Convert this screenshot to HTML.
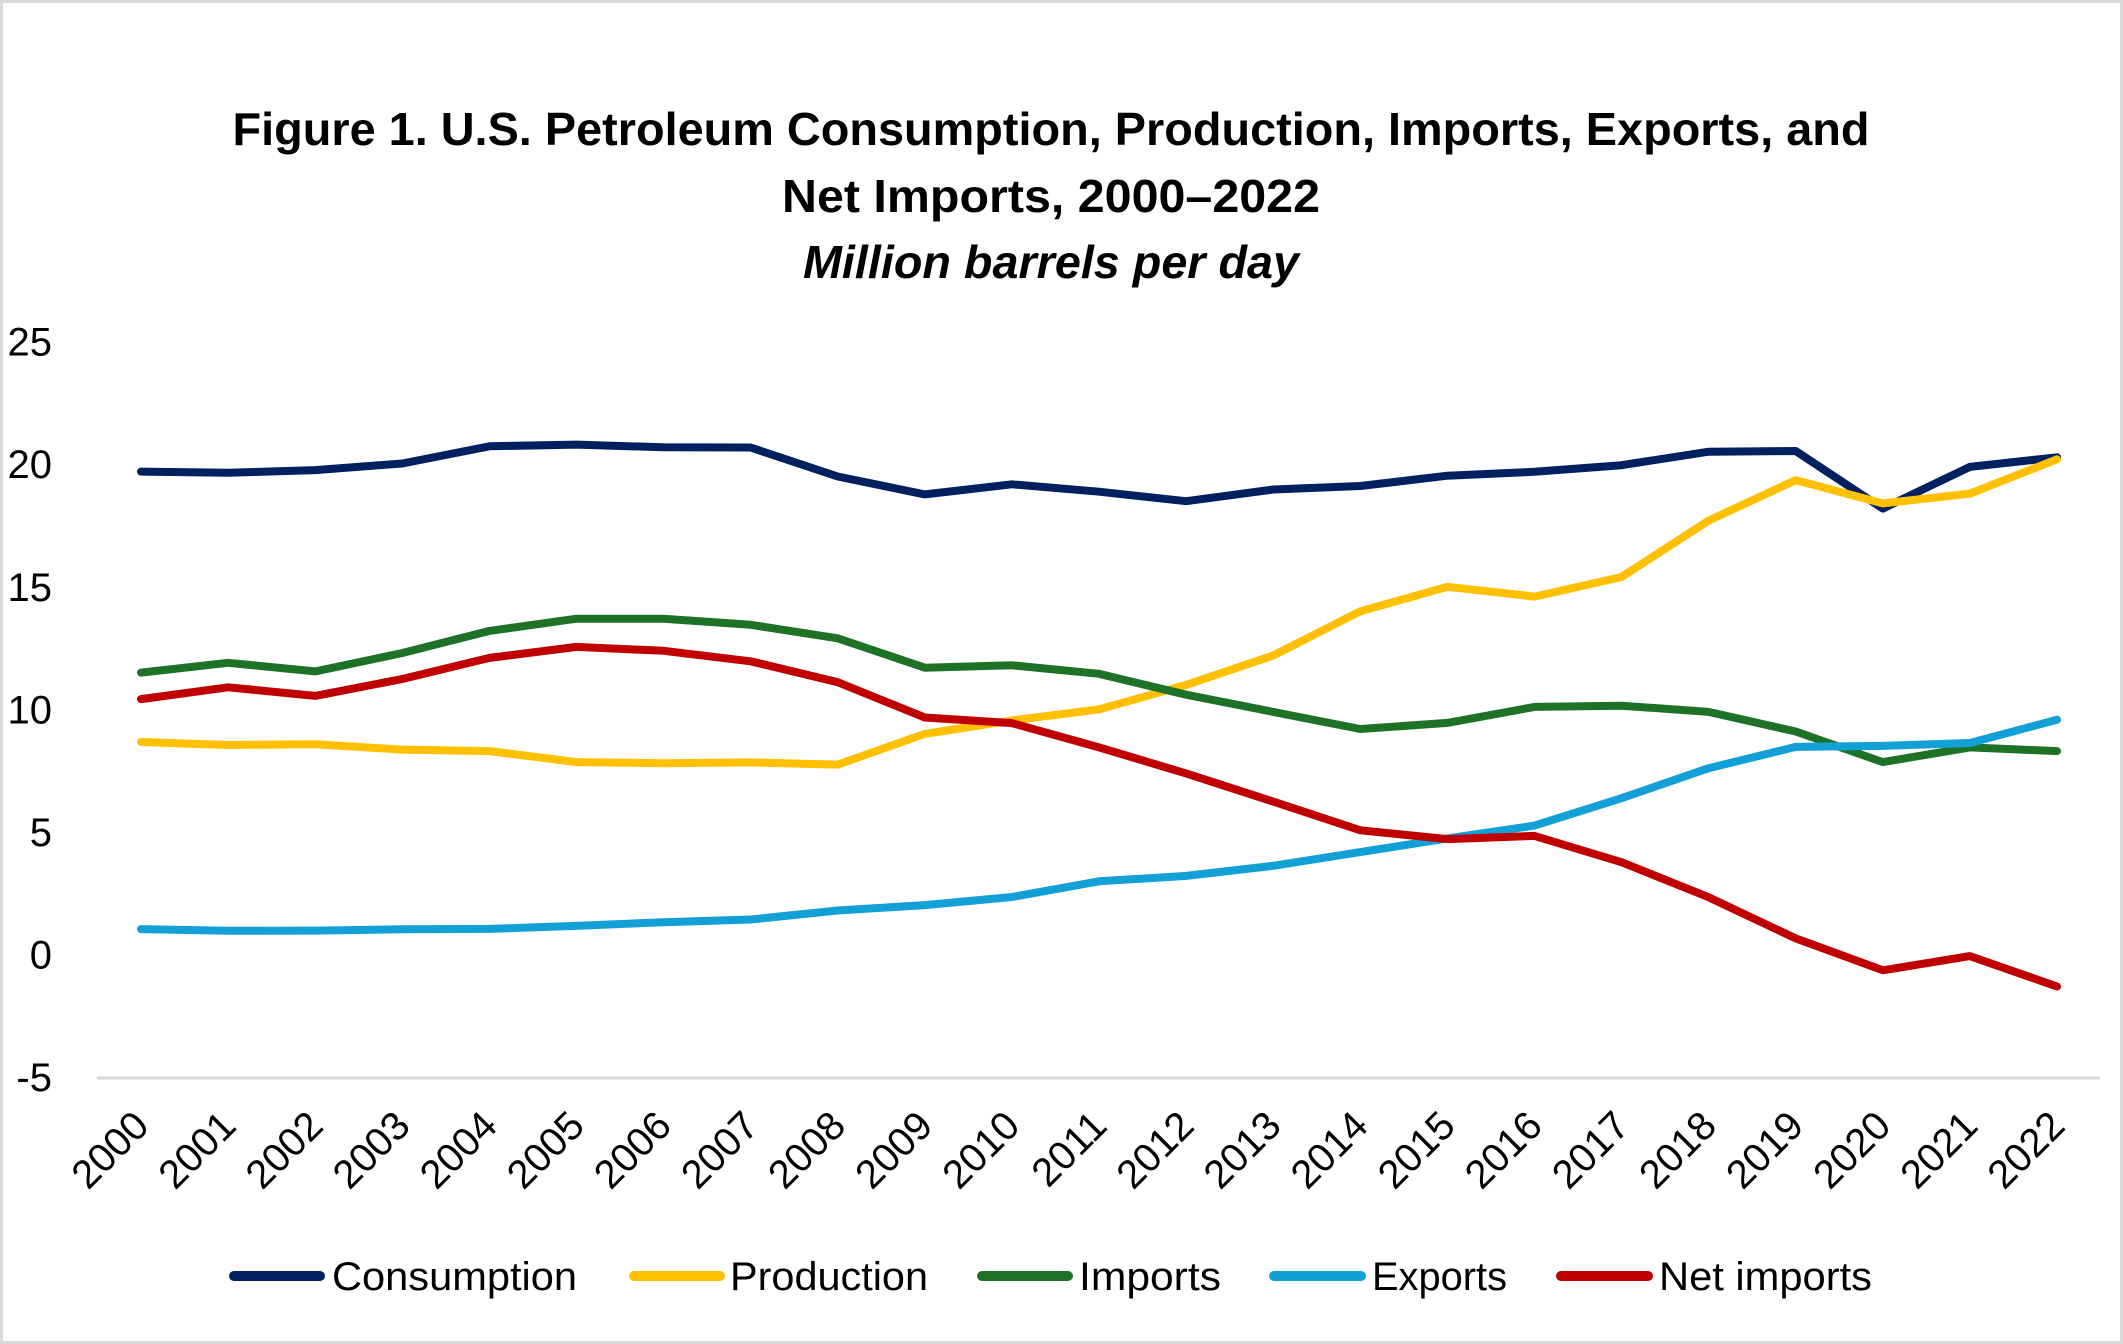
<!DOCTYPE html>
<html><head><meta charset="utf-8"><style>
html,body{margin:0;padding:0;background:#fff}
svg{display:block}
text{font-family:"Liberation Sans",sans-serif}
</style></head><body>
<svg id="s" width="2123" height="1344" viewBox="0 0 2123 1344" xmlns="http://www.w3.org/2000/svg">
<rect x="1.5" y="1.5" width="2120" height="1341" fill="#fff" stroke="#d9d9d9" stroke-width="3"/>
<text x="1051" y="145" text-anchor="middle" font-size="46" font-weight="bold" textLength="1637" lengthAdjust="spacingAndGlyphs">Figure 1. U.S. Petroleum Consumption, Production, Imports, Exports, and</text>
<text x="1051" y="212" text-anchor="middle" font-size="46" font-weight="bold" textLength="538" lengthAdjust="spacingAndGlyphs">Net Imports, 2000–2022</text>
<text x="1051" y="278" text-anchor="middle" font-size="46" font-weight="bold" font-style="italic" textLength="496" lengthAdjust="spacingAndGlyphs">Million barrels per day</text>
<line x1="97" y1="1078" x2="2100" y2="1078" stroke="#d9d9d9" stroke-width="3"/>
<g id="yl" font-size="40" text-anchor="end"></g>
<g id="xl" font-size="40" text-anchor="end"></g>
<g id="lines" fill="none" stroke-width="8" stroke-linecap="round" stroke-linejoin="round"></g>
<g font-size="40" stroke-width="10" stroke-linecap="round">
<line x1="234" y1="1276" x2="320" y2="1276" stroke="#002060"/>
<text x="332" y="1290" textLength="245" lengthAdjust="spacingAndGlyphs">Consumption</text>
<line x1="634" y1="1276" x2="720" y2="1276" stroke="#FFC000"/>
<text x="730" y="1290" textLength="198" lengthAdjust="spacingAndGlyphs">Production</text>
<line x1="982" y1="1276" x2="1068" y2="1276" stroke="#1E7228"/>
<text x="1079" y="1290" textLength="142" lengthAdjust="spacingAndGlyphs">Imports</text>
<line x1="1274" y1="1276" x2="1361" y2="1276" stroke="#12A0D7"/>
<text x="1372" y="1290" textLength="135" lengthAdjust="spacingAndGlyphs">Exports</text>
<line x1="1561" y1="1276" x2="1648" y2="1276" stroke="#C00000"/>
<text x="1659" y="1290" textLength="213" lengthAdjust="spacingAndGlyphs">Net imports</text>
</g>
</svg>
<script>
var NS="http://www.w3.org/2000/svg";
function X(i){return 141+i*(2057-141)/22}
function Y(v){return 954.6-v*24.52}
var yl=document.getElementById('yl');
for(var v=-5;v<=25;v+=5){var t=document.createElementNS(NS,'text');t.setAttribute('x',52);t.setAttribute('y',Y(v)+14);t.textContent=v;yl.appendChild(t);}
var xl=document.getElementById('xl');
for(var i=0;i<23;i++){var t=document.createElementNS(NS,'text');var x=X(i)+10,y=1128;t.setAttribute('x',x);t.setAttribute('y',y);t.setAttribute('transform','rotate(-45 '+x+' '+y+')');t.textContent=2000+i;xl.appendChild(t);}
var S=[
["#002060",[19.70,19.65,19.76,20.03,20.73,20.80,20.69,20.68,19.50,18.77,19.18,18.88,18.49,18.97,19.11,19.53,19.69,19.96,20.51,20.54,18.19,19.89,20.28]],
["#FFC000",[8.67,8.55,8.58,8.36,8.30,7.85,7.80,7.84,7.75,9.0,9.55,10.0,11.0,12.2,14.0,15.0,14.6,15.4,17.7,19.35,18.4,18.8,20.2]],
["#1E7228",[11.5,11.9,11.55,12.3,13.2,13.7,13.7,13.45,12.9,11.7,11.8,11.45,10.6,9.9,9.2,9.45,10.1,10.15,9.9,9.1,7.85,8.45,8.3]],
["#12A0D7",[1.04,0.97,0.98,1.03,1.05,1.17,1.32,1.43,1.80,2.02,2.35,2.99,3.21,3.62,4.18,4.74,5.26,6.38,7.60,8.47,8.51,8.63,9.58]],
["#C00000",[10.42,10.90,10.55,11.24,12.10,12.55,12.39,11.96,11.11,9.67,9.44,8.45,7.39,6.24,5.07,4.71,4.84,3.77,2.34,0.66,-0.64,-0.06,-1.3]]];
var g=document.getElementById('lines');
S.forEach(function(s){var p=document.createElementNS(NS,'polyline');p.setAttribute('stroke',s[0]);p.setAttribute('points',s[1].map(function(v,i){return X(i).toFixed(1)+','+Y(v).toFixed(1)}).join(' '));g.appendChild(p);});
</script>
</body></html>
